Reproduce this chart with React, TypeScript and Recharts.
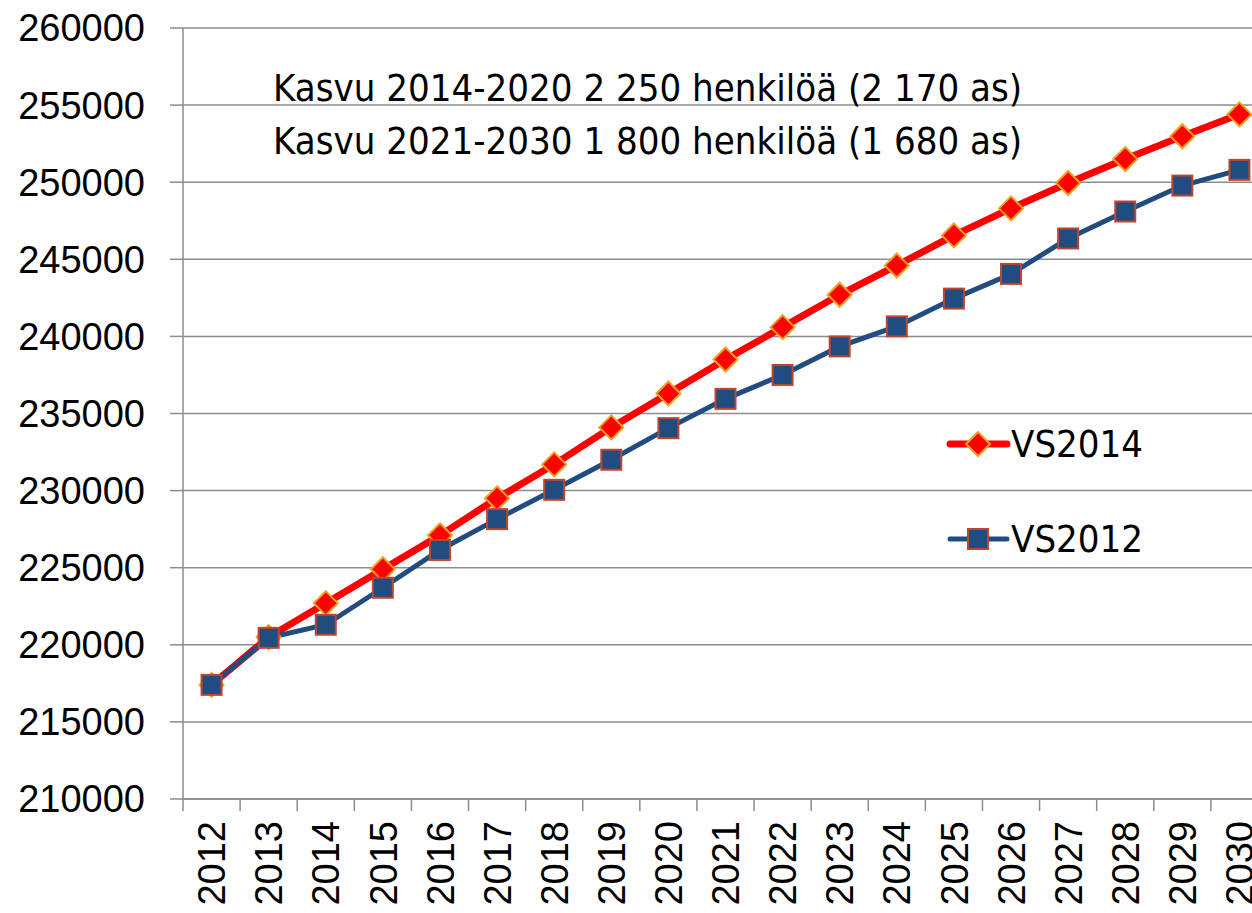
import { LineChart, Line, XAxis, YAxis, CartesianGrid } from "recharts";

const years = ["2012", "2013", "2014", "2015", "2016", "2017", "2018", "2019", "2020", "2021", "2022", "2023", "2024", "2025", "2026", "2027", "2028", "2029", "2030"];
const vs2014 = [217400, 220500, 222700, 224900, 227100, 229500, 231700, 234100, 236300, 238500, 240600, 242700, 244600, 246550, 248300, 249950, 251500, 252980, 254400];
const vs2012 = [217400, 220450, 221300, 223700, 226150, 228150, 230050, 232000, 234050, 235950, 237500, 239350, 240650, 242450, 244050, 246350, 248100, 249780, 250800];
const yTicks = [210000, 215000, 220000, 225000, 230000, 235000, 240000, 245000, 250000, 255000, 260000];
const notes = ["Kasvu 2014-2020 2 250 henkilöä (2 170 as)", "Kasvu 2021-2030 1 800 henkilöä (1 680 as)"];

const FONT = "'Liberation Sans', Arial, sans-serif";
const TEXT_FONT = "'DejaVu Sans Condensed', 'DejaVu Sans', sans-serif";
const GRID = "#8c8c8c";

const CHART_W = 1270;
const CHART_H = 913;
const Y_W = 183;
const X_H = 114;
const MARGIN = { top: 28, right: 2, bottom: 0, left: 0 };
const PLOT_W = CHART_W - Y_W - MARGIN.right;
const HALF_STEP = PLOT_W / years.length / 2;

const data = years.map((year, i) => ({ pos: i + 0.5, year, vs2014: vs2014[i], vs2012: vs2012[i] }));
const xTicks = Array.from({ length: years.length + 1 }, (_, i) => i);

const RED = { line: "#ff0000", fill: "#ff0000", stroke: "#f0a020" };
const BLUE = { line: "#214c80", fill: "#214c80", stroke: "#c0452f" };

const Diamond = ({ cx, cy, r = 12 }: { cx: number; cy: number; r?: number }) => (
  <path d={`M${cx},${cy - r}L${cx + r},${cy}L${cx},${cy + r}L${cx - r},${cy}Z`} fill={RED.fill} stroke={RED.stroke} strokeWidth={2} />
);

const Square = ({ cx, cy, r = 10 }: { cx: number; cy: number; r?: number }) => (
  <rect x={cx - r} y={cy - r} width={r * 2} height={r * 2} fill={BLUE.fill} stroke={BLUE.stroke} strokeWidth={2} />
);

const renderDiamond = (p: any) => (
  <g key={`d-${p.index}`}>
    <Diamond cx={p.cx} cy={p.cy} />
  </g>
);

const renderSquare = (p: any) => (
  <g key={`s-${p.index}`}>
    <Square cx={p.cx} cy={p.cy} />
  </g>
);

const XTick = ({ x, y, payload }: any) => {
  const i = payload.value;
  if (i >= years.length) return <g />;
  const cx = x + HALF_STEP;
  return (
    <text
      x={cx}
      y={y}
      transform={`rotate(-90, ${cx}, ${y})`}
      textAnchor="end"
      dy="0.36em"
      fontSize={38}
      fontFamily={FONT}
      fill="#000"
    >
      {years[i]}
    </text>
  );
};

const legendItems = [
  { name: "VS2014", color: RED.line, width: 7, top: 444, Marker: Diamond },
  { name: "VS2012", color: BLUE.line, width: 5, top: 539, Marker: Square },
];

export default function App() {
  return (
    <div style={{ position: "absolute", left: 0, top: 0, width: 1252, height: 913, overflow: "hidden", background: "#fff" }}>
      <LineChart width={CHART_W} height={CHART_H} data={data} margin={MARGIN}>
        <CartesianGrid vertical={false} stroke={GRID} strokeWidth={1.5} />
        <XAxis
          dataKey="pos"
          type="number"
          domain={[0, years.length]}
          ticks={xTicks}
          interval={0}
          height={X_H}
          tickSize={12}
          tickMargin={10}
          axisLine={{ stroke: GRID, strokeWidth: 1.5 }}
          tickLine={{ stroke: GRID, strokeWidth: 1.5 }}
          tick={<XTick />}
        />
        <YAxis
          type="number"
          domain={[210000, 260000]}
          ticks={yTicks}
          interval={0}
          width={Y_W}
          tickSize={13}
          tickMargin={25}
          axisLine={{ stroke: GRID, strokeWidth: 1.5 }}
          tickLine={{ stroke: GRID, strokeWidth: 1.5 }}
          tick={{ fontSize: 38, fontFamily: FONT, fill: "#000" }}
        />
        <Line dataKey="vs2014" name="VS2014" stroke={RED.line} strokeWidth={7} dot={renderDiamond} activeDot={false} isAnimationActive={false} />
        <Line dataKey="vs2012" name="VS2012" stroke={BLUE.line} strokeWidth={5} dot={renderSquare} activeDot={false} isAnimationActive={false} />
      </LineChart>

      <div style={{ position: "absolute", left: 273, top: 62, fontFamily: TEXT_FONT, fontSize: 38, lineHeight: "53px", color: "#000", whiteSpace: "nowrap" }}>
        {notes.map((n) => (
          <div key={n}>{n}</div>
        ))}
      </div>

      {legendItems.map(({ name, color, width, top, Marker }) => (
        <div key={name} style={{ position: "absolute", left: 945, top: top - 25, height: 50, display: "flex", alignItems: "center" }}>
          <svg width={66} height={50}>
            <line x1={5} y1={25} x2={62} y2={25} stroke={color} strokeWidth={width} strokeLinecap="round" />
            <Marker cx={33} cy={25} />
          </svg>
          <span style={{ fontFamily: TEXT_FONT, fontSize: 38, color: "#000" }}>{name}</span>
        </div>
      ))}
    </div>
  );
}
